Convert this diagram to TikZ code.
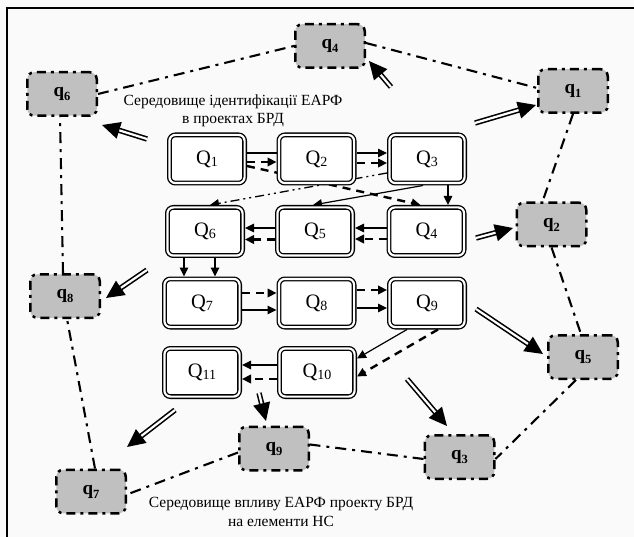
\documentclass[tikz,border=0pt]{standalone}
\usepackage{fontspec}
\setmainfont{Liberation Serif}
\usetikzlibrary{arrows.meta,calc,backgrounds}
\definecolor{qgray}{RGB}{192,192,192}
\newcommand{\Qlab}[1]{Q\raisebox{-2pt}{\fontsize{14}{14}\selectfont #1}}
\newcommand{\qlab}[1]{q\raisebox{-4pt}{\fontsize{12.5}{12.5}\selectfont\bfseries #1}}
\begin{document}
\begin{tikzpicture}[x=1pt,y=-1pt,
  Qbox/.style={draw, double=white, double distance=2.2pt, line width=1.3pt,
    rounded corners=6pt, fill=white, minimum width=75.2pt, minimum height=48.2pt,
    inner sep=0pt, outer sep=2.4pt, font=\fontsize{20.5}{20.5}\selectfont},
  qbox/.style={draw, fill=qgray, line width=2.5pt,
    dash pattern=on 9pt off 5pt on 3pt off 5pt, rounded corners=7pt,
    minimum width=69.5pt, minimum height=43.5pt, inner sep=0pt, outer sep=1.2pt,
    font=\fontsize{19}{19}\selectfont\bfseries},
  qline/.style={line width=2.1pt, dash pattern=on 11pt off 6pt on 3pt off 6pt},
  sarr/.style={line width=1.2pt, -{Triangle[length=9pt,width=8.5pt]}},
  sline/.style={line width=1.2pt},
  darr/.style={line width=2.4pt, dash pattern=on 8pt off 6pt, -{Triangle[length=9pt,width=8.5pt]}},
  ddarr/.style={line width=1.3pt, dash pattern=on 9pt off 4pt on 2pt off 4pt on 2pt off 4pt,
    -{Triangle[length=9pt,width=8.5pt]}},
  dblarr/.style={draw, double=white, line width=1.6pt, double distance=2.2pt,
    -{Triangle[length=18pt,width=17pt]}},
  lbl/.style={font=\fontsize{15.5}{18.5}\selectfont, align=center}
]
\useasboundingbox (0,0) rectangle (634,537);

% Q nodes
\node[Qbox] (Q1) at (207,159) {\Qlab{1}};
\node[Qbox] (Q2) at (316.5,159) {\Qlab{2}};
\node[Qbox] (Q3) at (427,159) {\Qlab{3}};
\node[Qbox] (Q6) at (205,231.5) {\Qlab{6}};
\node[Qbox] (Q5) at (315,231.5) {\Qlab{5}};
\node[Qbox] (Q4) at (426.5,231.5) {\Qlab{4}};
\node[Qbox] (Q7) at (202,303) {\Qlab{7}};
\node[Qbox] (Q8) at (316.5,303) {\Qlab{8}};
\node[Qbox] (Q9) at (427,303) {\Qlab{9}};
\node[Qbox] (Q11) at (202,372.5) {\Qlab{11}};
\node[Qbox] (Q10) at (317,372.5) {\Qlab{10}};

% q nodes
\node[qbox] (q4) at (330,46) {\qlab{4}};
\node[qbox] (q6) at (62,94) {\qlab{6}};
\node[qbox] (q1) at (573,91) {\qlab{1}};
\node[qbox] (q2) at (551.5,224.5) {\qlab{2}};
\node[qbox] (q8) at (65,296) {\qlab{8}};
\node[qbox] (q5) at (583,357) {\qlab{5}};
\node[qbox] (q9) at (274,448.5) {\qlab{9}};
\node[qbox] (q3) at (459.5,457) {\qlab{3}};
\node[qbox] (q7) at (91,491.5) {\qlab{7}};

% labels
\node[lbl] (top) at (233,111) {Середовище ідентифікації ЕАРФ\\в проектах БРД};
\node[lbl] (bot) at (281,512) {Середовище впливу ЕАРФ проекту БРД\\на  елементи НС};

\begin{pgfonlayer}{background}
\fill[white!98!black] (0,0) rectangle (634,537);
\draw[line width=2pt] (7,537) -- (7,8.5) -- (634,8.5);
% Q connectors
\draw[sline] ($(Q1.east)+(0,-6)$) -- ($(Q2.west)+(0,-6)$);
\draw[darr] ($(Q1.east)+(0,3)$) -- ($(Q2.west)+(0,3)$);
\draw[darr] ($(Q1.east)+(0,7)$) -- ($(Q4.north)+(-6,0)$);
\draw[sarr] ($(Q2.east)+(0,-6)$) -- ($(Q3.west)+(0,-6)$);
\draw[darr] ($(Q2.east)+(0,4)$) -- ($(Q3.west)+(0,4)$);
\draw[ddarr] ($(Q3.west)+(0,14)$) -- ($(Q6.north)+(5,0)$);
\draw[sarr] ($(Q3.south)+(-4,0)$) -- ($(Q5.north)+(-2,0)$);
\draw[sarr] ($(Q3.south)+(21,0)$) -- ($(Q4.north)+(21.5,0)$);
\draw[sarr] ($(Q4.west)+(0,-3.5)$) -- ($(Q5.east)+(0,-3.5)$);
\draw[darr] ($(Q4.west)+(0,7.5)$) -- ($(Q5.east)+(0,7.5)$);
\draw[sarr] ($(Q5.west)+(0,-3.5)$) -- ($(Q6.east)+(0,-3.5)$);
\draw[darr] ($(Q5.west)+(0,8)$) -- ($(Q6.east)+(0,8)$);
\draw[sarr] ($(Q6.south)+(-21,0)$) -- ($(Q7.north)+(-18,0)$);
\draw[sarr] ($(Q6.south)+(10,0)$) -- ($(Q7.north)+(13,0)$);
\draw[darr] ($(Q7.east)+(0,-10)$) -- ($(Q8.west)+(0,-10)$);
\draw[sarr] ($(Q7.east)+(0,7)$) -- ($(Q8.west)+(0,7)$);
\draw[darr] ($(Q8.east)+(0,-13)$) -- ($(Q9.west)+(0,-13)$);
\draw[sarr] ($(Q8.east)+(0,5)$) -- ($(Q9.west)+(0,5)$);
\draw[sarr] ($(Q9.south)+(-20,0)$) -- ($(Q10.east)+(0,-14)$);
\draw[darr] ($(Q9.south)+(11,0)$) -- ($(Q10.east)+(0,4)$);
\draw[sarr] ($(Q10.west)+(0,-7.5)$) -- ($(Q11.east)+(0,-7.5)$);
\draw[darr] ($(Q10.west)+(0,6.5)$) -- ($(Q11.east)+(0,6.5)$);
\end{pgfonlayer}

% q cycle
\draw[qline] (q6.east) -- (q4.west);
\draw[qline] ($(q4.east)+(0,-3)$) -- ($(q1.west)+(0,-3)$);
\draw[qline] (q1.south) -- ($(q2.north)+(-9,0)$);
\draw[qline] (q2.south) -- ($(q5.north)+(-2,0)$);
\draw[qline] ($(q5.south)+(-7,0)$) -- ($(q3.east)+(0,2)$);
\draw[qline] ($(q3.west)+(0,2)$) -- ($(q9.east)+(0,-4)$);
\draw[qline] ($(q9.west)+(0,4)$) -- ($(q7.east)+(0,3)$);
\draw[qline] ($(q7.north)+(4,0)$) -- ($(q8.south)+(2,0)$);
\draw[qline] ($(q8.north)+(-2,0)$) -- ($(q6.south)+(-2,0)$);

% double arrows
\coordinate (a6) at (147,139); \coordinate (b6) at (102,125);
\coordinate (a4) at (391,87);  \coordinate (b4) at (369,61);
\coordinate (a1) at (475,123); \coordinate (b1) at (536,105);
\coordinate (a2) at (476,238); \coordinate (b2) at (513,228);
\coordinate (a8) at (147,270); \coordinate (b8) at (106,298);
\coordinate (a5) at (476,309); \coordinate (b5) at (543,354);
\coordinate (a3) at (407,379); \coordinate (b3) at (447,426);
\coordinate (a9) at (259,393); \coordinate (b9) at (266,421);
\coordinate (a7) at (175,410); \coordinate (b7) at (127,447);
\foreach \i in {6,4,1,2,8,5,3,9,7} {\draw[dblarr] (a\i) -- (b\i);}
\end{tikzpicture}
\end{document}
